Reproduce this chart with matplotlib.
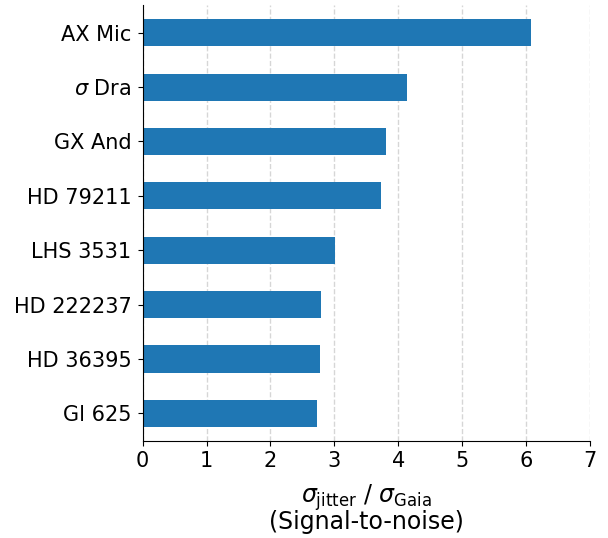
import matplotlib
matplotlib.use("Agg")
import matplotlib.pyplot as plt

stars = ["AX Mic", r"$\sigma$ Dra", "GX And", "HD 79211", "LHS 3531",
         "HD 222237", "HD 36395", "Gl 625"]
snr = [6.07, 4.14, 3.81, 3.73, 3.01, 2.79, 2.78, 2.73]

fig = plt.figure(figsize=(6.08, 5.38), dpi=100)
ax = fig.add_axes([0.2347, 0.1803, 0.9704 - 0.2347, 0.9907 - 0.1803])

pos = list(range(len(stars)))
ax.barh(pos, snr, height=0.5, color="#1f77b4", zorder=2)
ax.set_yticks(pos)
ax.set_yticklabels(stars, fontsize=15)
ax.tick_params(axis="y", pad=4.5)
ax.set_ylim(len(stars) - 0.49, -0.51)

ax.set_xlim(0, 7)
ax.set_xticks(range(0, 8))
ax.tick_params(axis="x", labelsize=15)
ax.grid(axis="x", linestyle="--", color="#cccccc", alpha=0.8, linewidth=1, zorder=0)
ax.set_axisbelow(True)

ax.spines["top"].set_visible(False)
ax.spines["right"].set_visible(False)

ax.set_xlabel(r"$\sigma_{\rm jitter}$ / $\sigma_{\rm Gaia}$" + "\n(Signal-to-noise)",
              fontsize=17, linespacing=0.88, labelpad=8)

fig.savefig("out.png", dpi=100)
